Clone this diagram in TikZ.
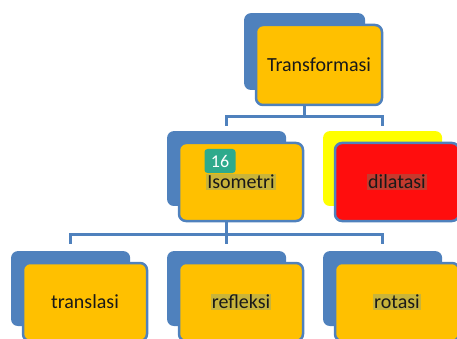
\documentclass[tikz,border=0pt]{standalone}
\usepackage{fontspec}
\setmainfont{Carlito}
\usetikzlibrary{shadows}
\definecolor{boxblue}{HTML}{4F81BD}
\definecolor{boxgold}{HTML}{FFC000}
\definecolor{boxred}{HTML}{FF0D0D}
\definecolor{boxyellow}{HTML}{FFFF00}
\definecolor{badgeteal}{HTML}{2EAA8C}
\definecolor{hlgold}{HTML}{C9B43A}
\definecolor{hlred}{HTML}{C53A2E}
\newcommand{\hilite}[2]{\setlength{\fboxsep}{1pt}\colorbox{#1}{#2}}
\tikzstyle{level} = [rectangle, rounded corners=7pt, draw=boxblue, line width=2.5pt, fill=boxgold, text=black!90, text centered, minimum width=124pt, minimum height=78pt, font=\fontsize{20}{24}\selectfont]
\tikzstyle{backblue} = [general shadow={fill=boxblue, shadow xshift=-15pt, shadow yshift=14pt, shadow scale=0.96}]
\tikzstyle{backyellow} = [general shadow={fill=boxyellow, shadow xshift=-15pt, shadow yshift=14pt, shadow scale=0.96}]
\tikzstyle{badge} = [rectangle, rounded corners=3pt, fill=badgeteal, text=white, inner sep=0pt, minimum width=31pt, minimum height=24pt, font=\fontsize{18}{20}\selectfont]
\tikzstyle{link} = [draw=boxblue, line width=3pt]

\begin{document}
\begin{tikzpicture}[x=1pt, y=1pt, node distance=117pt]

  \useasboundingbox (0,0) rectangle (457,-339);

  \node (top) [level, minimum width=126pt, minimum height=80pt, backblue] at (319,-65) {Transformasi};
  \node (iso) [level, backblue, below of=top, xshift=-78pt] {\hilite{hlgold}{Isometri}};
  \node (dil) [level, fill=boxred, backyellow, right of=iso, node distance=156pt] {\hilite{hlred}{dilatasi}};

  \node (refl) [level, backblue, below of=iso, node distance=120pt] {\hilite{hlgold}{refleksi}};
  \node (trans) [level, backblue, left of=refl, node distance=156pt] {translasi};
  \node (rot) [level, backblue, right of=refl, node distance=156pt] {\hilite{hlgold}{rotasi}};

  \node (num) [badge] at ([shift={(-21pt,21pt)}]iso.center) {16};

  \draw [link] ([xshift=-15pt]top.south) -- ++(0,-10) -| ([xshift=-15pt, yshift=16pt]iso.north);
  \draw [link] ([xshift=-15pt]top.south) -- ++(0,-10) -| ([xshift=-15pt, yshift=16pt]dil.north);

  \draw [link] ([xshift=-15pt]iso.south) -- ++(0,-12) -| ([xshift=-15pt, yshift=18pt]trans.north);
  \draw [link] ([xshift=-15pt]iso.south) -- ++(0,-12) -| ([xshift=-15pt, yshift=18pt]refl.north);
  \draw [link] ([xshift=-15pt]iso.south) -- ++(0,-12) -| ([xshift=-15pt, yshift=18pt]rot.north);

\end{tikzpicture}
\end{document}
